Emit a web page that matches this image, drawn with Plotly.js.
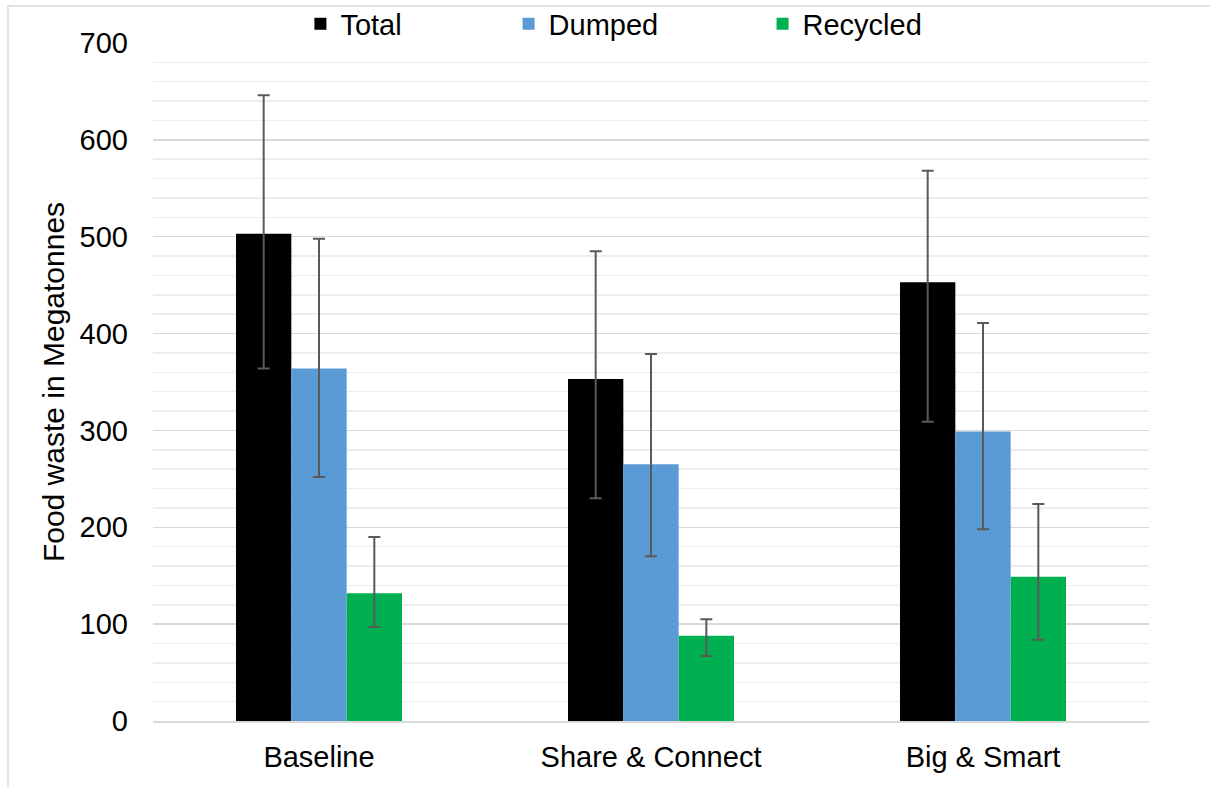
<!DOCTYPE html>
<html>
<head>
<meta charset="utf-8">
<script src="https://cdn.plot.ly/plotly-3.0.1.min.js"></script>
<style>
  html, body { margin: 0; padding: 0; background: #ffffff; }
  #chart { width: 1210px; height: 787px; }
</style>
</head>
<body>
<div id="chart"></div>
<script>
// Categories
const categories = ["Baseline", "Share & Connect", "Big & Smart"];

// Series values (Megatonnes)
const totalValues    = [503, 353, 453];
const dumpedValues   = [364, 265, 299];
const recycledValues = [132, 88, 149];

// Error bar upper / lower ends
const totalUpper    = [646, 485, 568];
const totalLower    = [364, 230, 309];
const dumpedUpper   = [498, 379, 411];
const dumpedLower   = [252, 170, 198];
const recycledUpper = [190, 105, 224];
const recycledLower = [97, 67, 84];

const seriesNames = ["Total", "Dumped", "Recycled"];
const yTickValues = [0, 100, 200, 300, 400, 500, 600, 700];

function plus(vals, up) { return vals.map((v, i) => up[i] - v); }
function minus(vals, lo) { return vals.map((v, i) => v - lo[i]); }

const errStyle = { color: "#5a5a5a", thickness: 2, width: 6 };
const FONT = "Liberation Sans, Arial, sans-serif";

function mkTrace(name, vals, up, lo, color, legendId) {
  return {
    type: "bar",
    name: name,
    x: categories,
    y: vals,
    legend: legendId,
    marker: { color: color, line: { width: 0 } },
    error_y: Object.assign({
      type: "data",
      symmetric: false,
      array: plus(vals, up),
      arrayminus: minus(vals, lo),
      visible: true
    }, errStyle),
    hoverinfo: "x+y+name"
  };
}

const data = [
  mkTrace(seriesNames[0], totalValues, totalUpper, totalLower, "#000000", "legend"),
  mkTrace(seriesNames[1], dumpedValues, dumpedUpper, dumpedLower, "#5b9bd5", "legend2"),
  mkTrace(seriesNames[2], recycledValues, recycledUpper, recycledLower, "#00b050", "legend3")
];

const legendBase = {
  orientation: "h",
  yanchor: "middle",
  y: 1.028,
  xanchor: "left",
  bgcolor: "rgba(0,0,0,0)",
  borderwidth: 0,
  font: { family: FONT, size: 29, color: "#000000" }
};

const layout = {
  width: 1210,
  height: 787,
  paper_bgcolor: "#ffffff",
  plot_bgcolor: "#ffffff",
  margin: { l: 153, r: 61, t: 43, b: 66, autoexpand: false },
  font: { family: FONT, size: 29, color: "#000000" },
  barmode: "group",
  bargap: 0.5,
  bargroupgap: 0,
  showlegend: true,
  legend: Object.assign({}, legendBase, { x: 0.148 }),
  legend2: Object.assign({}, legendBase, { x: 0.357 }),
  legend3: Object.assign({}, legendBase, { x: 0.612 }),
  xaxis: {
    type: "category",
    showgrid: false,
    zeroline: false,
    showline: true,
    linecolor: "#d9d9d9",
    linewidth: 2,
    ticks: "",
    ticklabelstandoff: 9,
    tickfont: { family: FONT, size: 29, color: "#000000" },
    fixedrange: true
  },
  yaxis: {
    range: [0, 700],
    tickvals: yTickValues,
    ticktext: yTickValues.map(String),
    showgrid: true,
    gridcolor: "#d9d9d9",
    gridwidth: 1.5,
    minor: { dtick: 20, tick0: 0, showgrid: true, gridcolor: "#ededed", gridwidth: 1.5, ticks: "" },
    zeroline: false,
    showline: false,
    ticks: "",
    ticklabelstandoff: 24,
    tickfont: { family: FONT, size: 29, color: "#000000" },
    title: { text: "Food waste in Megatonnes", font: { family: FONT, size: 30, color: "#000000" }, standoff: 6 },
    fixedrange: true
  },
  shapes: [
    {
      type: "rect", xref: "paper", yref: "paper",
      x0: -0.1456, x1: 1.2, y0: -0.3, y1: 1.0546,
      line: { color: "#d9d9d9", width: 1.5 },
      fillcolor: "rgba(0,0,0,0)",
      layer: "below"
    }
  ]
};

Plotly.newPlot("chart", data, layout, { displayModeBar: false, staticPlot: true });
</script>
</body>
</html>
